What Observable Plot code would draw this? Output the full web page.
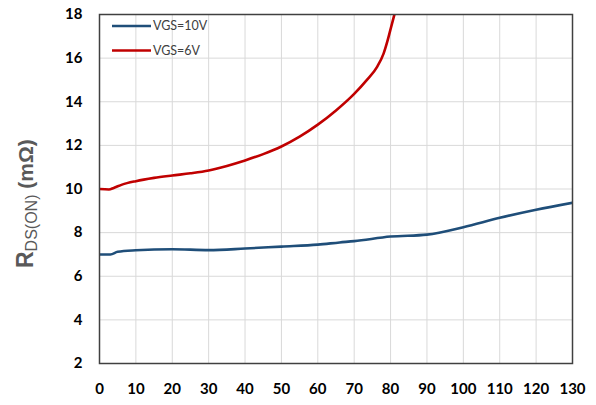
<!DOCTYPE html>
<html>
<head>
<meta charset="utf-8">
<script src="https://cdn.jsdelivr.net/npm/d3@7"></script>
<script src="https://cdn.jsdelivr.net/npm/@observablehq/plot@0.6"></script>
<style>
  html, body { margin: 0; padding: 0; background: #fff; }
  #chart { position: relative; width: 596px; height: 405px; }
</style>
</head>
<body>
<div id="chart"></div>
<script>
// x axis values and RDS(ON) in mΩ
const series10Name = "VGS=10V";
const x10 = [0, 3, 5, 10, 20, 30, 40, 50, 60, 66, 70, 80, 90, 100, 110, 120, 130];
const y10 = [7.0, 7.0, 7.12, 7.19, 7.24, 7.2, 7.27, 7.36, 7.45, 7.55, 7.61, 7.82, 7.91, 8.25, 8.68, 9.05, 9.37];

const series6Name = "VGS=6V";
const x6 = [0, 2.6, 3.9, 6.2, 10, 15, 20, 25, 30, 35, 40, 45, 50, 55, 60, 65, 70, 73.5, 76.3, 78.1, 79.3, 80, 81.1];
const y6 = [10.0, 9.98, 10.05, 10.2, 10.36, 10.51, 10.62, 10.72, 10.85, 11.06, 11.31, 11.6, 11.95, 12.4, 12.95, 13.6, 14.36, 15.0, 15.6, 16.22, 16.88, 17.33, 18.03];

const xTicks = [0, 10, 20, 30, 40, 50, 60, 70, 80, 90, 100, 110, 120, 130];
const yTicks = [2, 4, 6, 8, 10, 12, 14, 16, 18];

const colors = {[series10Name]: "#1f4e79", [series6Name]: "#c00000"};

const data = [
  ...x10.map((x, i) => ({x, y: y10[i], s: series10Name})),
  ...x6.map((x, i) => ({x, y: y6[i], s: series6Name}))
];

const chart = Plot.plot({
  width: 596,
  height: 405,
  marginLeft: 99,
  marginRight: 24,
  marginTop: 14,
  marginBottom: 42,
  style: {fontFamily: "Lato, 'Open Sans', sans-serif", color: "#000", background: "#fff"},
  x: {domain: [0, 130], ticks: xTicks},
  y: {domain: [2, 18], ticks: yTicks},
  marks: [
    Plot.gridX(xTicks, {stroke: "#d9d9d9", strokeOpacity: 1, strokeWidth: 1}),
    Plot.gridY(yTicks, {stroke: "#d9d9d9", strokeOpacity: 1, strokeWidth: 1}),
    Plot.line(data, {x: "x", y: "y", z: "s", stroke: d => colors[d.s], strokeWidth: 2.6, curve: "monotone-x", clip: true}),
    Plot.frame({stroke: "#404040", strokeWidth: 1.5}),
    Plot.axisX({ticks: xTicks, tickSize: 0, tickPadding: 20, fontSize: 15, fontWeight: "bold", label: null}),
    Plot.axisY({ticks: yTicks, tickSize: 0, tickPadding: 17, fontSize: 15, fontWeight: "bold", label: null})
  ]
});

document.getElementById("chart").appendChild(chart);

const svg = d3.select(chart);

// Y axis title with subscript
const t = svg.append("text")
  .attr("transform", "translate(33,268) rotate(-90)")
  .attr("text-anchor", "start")
  .attr("fill", "#595959")
  .attr("font-family", "'Liberation Sans', Arial, sans-serif")
  .attr("font-weight", "bold");
t.append("tspan").attr("font-size", 23).text("R");
t.append("tspan").attr("font-size", 16).attr("font-weight", "normal").attr("dy", 4).text("DS(ON)");
t.append("tspan").attr("font-size", 21).attr("dy", -4).text(" (mΩ)");

// Legend
const legendItems = [series10Name, series6Name];
legendItems.forEach((name, i) => {
  const y = 26 + i * 24.5;
  svg.append("line")
    .attr("x1", 112).attr("x2", 151).attr("y1", y).attr("y2", y)
    .attr("stroke", colors[name]).attr("stroke-width", 2.6);
  svg.append("text")
    .attr("x", 153).attr("y", y).attr("dy", "0.35em")
    .attr("text-anchor", "start")
    .attr("font-size", 12.5)
    .attr("fill", "#404040")
    .attr("font-family", "Lato, sans-serif")
    .text(name);
});
</script>
</body>
</html>
